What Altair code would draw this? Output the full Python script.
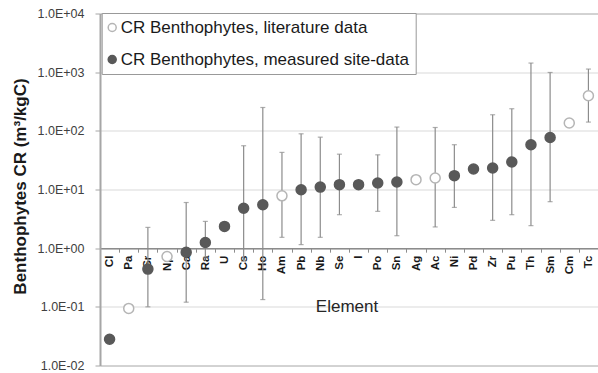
import altair as alt
import pandas as pd

LIT = "CR Benthophytes, literature data"
MEAS = "CR Benthophytes, measured site-data"

elements = ["Cl", "Pa", "Sr", "Np", "Ca", "Ra", "U", "Cs", "Ho", "Am", "Pb", "Nb", "Se",
            "I", "Po", "Sn", "Ag", "Ac", "Ni", "Pd", "Zr", "Pu", "Th", "Sm", "Cm", "Tc"]
cr_values = [0.028, 0.094, 0.44, 0.72, 0.85, 1.25, 2.35, 4.8, 5.5, 7.8, 9.9, 11.0, 12.1,
             12.1, 12.9, 13.4, 14.7, 15.7, 17.2, 22.4, 23.2, 29.4, 58.0, 77.0, 136.0, 396.0]
err_low = [None, 0.094, 0.10, 0.69, 0.12, 0.70, None, 0.60, 0.133, 1.53, 1.15, 1.53, 3.72,
           None, 4.24, 1.63, 14.7, 2.3, 4.95, None, 2.98, 3.72, 2.42, 6.2, 136.0, 141.0]
err_high = [None, 0.094, 2.26, 0.75, 6.0, 2.86, None, 55.7, 250.0, 42.9, 89.0, 78.0, 40.0,
            None, 39.0, 116.0, 14.7, 114.0, 58.0, None, 188.0, 238.0, 1430.0, 988.0, 136.0, 1130.0]
sources = [MEAS, LIT, MEAS, LIT, MEAS, MEAS, MEAS, MEAS, MEAS, LIT, MEAS, MEAS, MEAS,
           MEAS, MEAS, MEAS, LIT, LIT, MEAS, MEAS, MEAS, MEAS, MEAS, MEAS, LIT, LIT]
y_ticks = [0.01, 0.1, 1, 10, 100, 1000, 10000]

df = pd.DataFrame({"element": elements, "cr": cr_values, "lo": err_low,
                   "hi": err_high, "series": sources})

W, H = 498, 352

x_enc = alt.X(
    "element:N", sort=elements,
    scale=alt.Scale(type="band", paddingInner=0, paddingOuter=0),
    axis=alt.Axis(
        title="Element", orient="bottom", offset=-H / 3.0,
        labelAngle=-90, labelFontWeight="bold", labelFontSize=11.5,
        labelColor="#1a1a1a", labelPadding=3, tickSize=4, tickBand="extent",
        tickColor="#8c8c8c", domainColor="#8c8c8c", domainWidth=1.5, grid=False,
        titleX=246.5, titleY=63.8, titleFontSize=17, titleFontWeight="normal",
        titleColor="#262626", titleBaseline="alphabetic", titleAlign="center",
        labelOverlap=False,
    ),
)

y_scale = alt.Scale(type="log", domain=[0.01, 10000], nice=False)
y_axis = alt.Axis(
    values=y_ticks,
    labelExpr="'1.0E' + (datum.value >= 1 ? '+' : '-') + '0' + abs(round(log(datum.value)/LN10))",
    title="Benthophytes CR (m³/kgC)", titleFontSize=17, titleFontWeight="bold",
    titleColor="#1a1a1a", titleX=-80, titleY=172.5, titleAngle=-90,
    titleAlign="center", titleBaseline="middle",
    labelFontSize=12.5, labelColor="#404040", labelPadding=11, tickSize=5,
    tickColor="#a6a6a6", domainColor="#a6a6a6", domainWidth=2,
    grid=True, gridWidth=1,
    gridColor={"condition": {"test": "datum.value >= 10000 || datum.value <= 0.01",
                             "value": "#a6a6a6"}, "value": "#d9d9d9"},
    labelOverlap=False,
)

base = alt.Chart(df)
errs = base.transform_filter("isValid(datum.lo)")

rules = errs.mark_rule(color="#8c8c8c", strokeWidth=1.2).encode(
    x=x_enc, y=alt.Y("lo:Q", scale=y_scale, axis=y_axis), y2="hi:Q")
cap_lo = errs.mark_tick(color="#8c8c8c", thickness=1.2, size=5).encode(
    x=x_enc, y=alt.Y("lo:Q", scale=y_scale, axis=y_axis))
cap_hi = errs.mark_tick(color="#8c8c8c", thickness=1.2, size=5).encode(
    x=x_enc, y=alt.Y("hi:Q", scale=y_scale, axis=y_axis))

legend = alt.Legend(
    title=None, orient="none", legendX=1.7, legendY=-0.5, direction="vertical",
    fillColor="white", strokeColor="#999999", padding=6, labelFontSize=17,
    labelColor="#1a1a1a", symbolSize=64, symbolStrokeWidth=1.5, rowPadding=14,
    labelOffset=0, symbolOffset=-4, cornerRadius=0, symbolType="circle",
    symbolOpacity=1, labelLimit=500,
)

points = base.mark_circle(size=100, opacity=1, strokeWidth=1.5).encode(
    x=x_enc,
    y=alt.Y("cr:Q", scale=y_scale, axis=y_axis),
    fill=alt.Fill("series:N", scale=alt.Scale(domain=[LIT, MEAS], range=["white", "#595959"]),
                  legend=legend),
    stroke=alt.Stroke("series:N", scale=alt.Scale(domain=[LIT, MEAS], range=["#b5b5b5", "#595959"]),
                      legend=legend),
)

chart = alt.layer(rules, cap_lo, cap_hi, points).properties(
    width=W, height=H, autosize="none",
    padding={"left": 100, "top": 13.5, "right": 0, "bottom": 7.5},
).configure(font="Liberation Sans").configure_view(stroke=None)

chart.save("out.html", embed_options={"renderer": "svg", "actions": False})
